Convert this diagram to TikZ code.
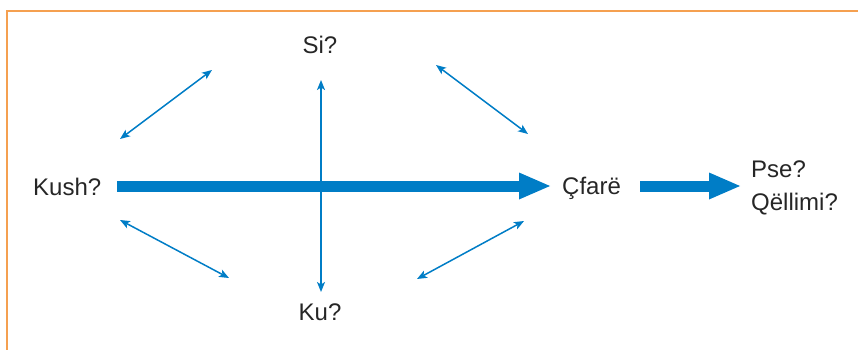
\documentclass[tikz,border=0pt]{standalone}
\usepackage{fontspec}
\setmainfont{Liberation Sans}
\usetikzlibrary{arrows.meta}
\definecolor{ablue}{RGB}{0,125,198}
\definecolor{aorange}{RGB}{245,160,80}
\tikzset{
  lbl/.style={font=\fontsize{24}{33}\selectfont, text=black!85, inner sep=0pt},
  thin arrow/.style={draw=ablue, line width=1.5pt, {Stealth[length=10pt,width=8pt,inset=2.5pt]}-{Stealth[length=10pt,width=8pt,inset=2.5pt]}},
  big arrow/.style={draw=ablue, line width=11pt, -{Triangle[length=31pt,width=27pt,line width=0pt]}},
  frame/.style={draw=aorange, line width=1.5pt}
}
\begin{document}
\begin{tikzpicture}[x=1pt,y=-1pt]
\useasboundingbox (0,0) rectangle (858,350);
\draw[frame] (7,350) -- (7,11) -- (858,11);
\node[lbl, anchor=base west] (kush) at (33,195) {Kush?};
\node[lbl, anchor=base] (si) at (320,54) {Si?};
\node[lbl, anchor=base] (ku) at (320,320) {Ku?};
\node[lbl, anchor=base west] (cfare) at (562,194) {Çfarë};
\node[lbl, anchor=base west, align=left] (pse) at (751,210) {Pse?\\Qëllimi?};
% ends of connectors
\coordinate (k1) at (117,186);
\coordinate (c1) at (550,186);
\coordinate (c2) at (640,186);
\coordinate (p1) at (740,186);
\coordinate (v1) at (321,80);
\coordinate (v2) at (321,292);
\coordinate (a1) at (120,139); \coordinate (a2) at (212,70);
\coordinate (b1) at (436,65);  \coordinate (b2) at (528,134);
\coordinate (d1) at (120,220); \coordinate (d2) at (229,278);
\coordinate (e1) at (524,221); \coordinate (e2) at (417,279);
\draw[big arrow] (k1) -- (c1);
\draw[big arrow] (c2) -- (p1);
\draw[thin arrow] (v1) -- (v2);
\draw[thin arrow] (a1) -- (a2);
\draw[thin arrow] (b1) -- (b2);
\draw[thin arrow] (d1) -- (d2);
\draw[thin arrow] (e1) -- (e2);
\end{tikzpicture}
\end{document}
